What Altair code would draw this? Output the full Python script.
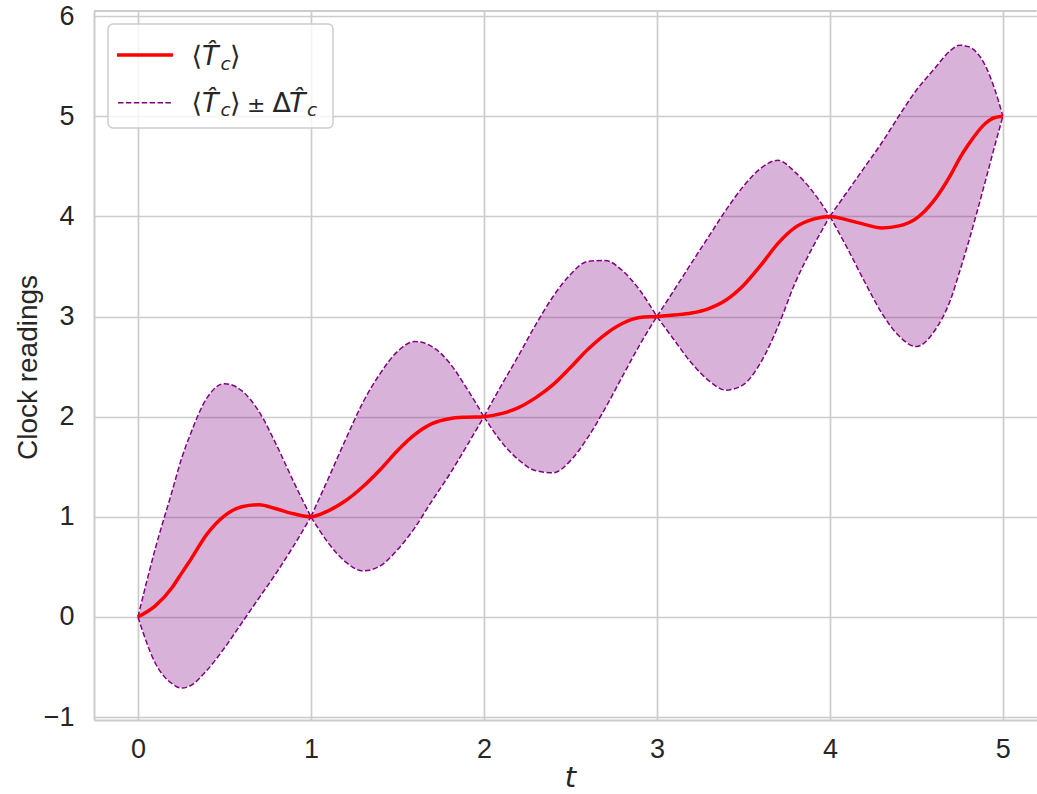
import altair as alt
import pandas as pd

# ---- data ----
t_vals = [0.0, 0.1, 0.2, 0.25, 0.3, 0.4, 0.5, 0.6, 0.7, 0.8, 0.9,
          1.0, 1.1, 1.2, 1.3, 1.4, 1.5, 1.6, 1.7, 1.8, 1.9,
          2.0, 2.1, 2.2, 2.3, 2.4, 2.5, 2.6, 2.7, 2.8, 2.9,
          3.0, 3.1, 3.2, 3.3, 3.4, 3.5, 3.6, 3.7, 3.8, 3.9,
          4.0, 4.1, 4.2, 4.3, 4.4, 4.5, 4.6, 4.7, 4.75, 4.8, 4.9, 4.95,
          5.0]
mean_vals = [0.00, 0.11, 0.30, 0.43, 0.56, 0.83, 1.01, 1.10, 1.12, 1.08, 1.03,
             1.00, 1.06, 1.16, 1.30, 1.47, 1.66, 1.82, 1.93, 1.98, 1.995,
             2.00, 2.03, 2.09, 2.19, 2.32, 2.49, 2.67, 2.82, 2.93, 2.99,
             3.00, 3.015, 3.035, 3.08, 3.165, 3.31, 3.51, 3.73, 3.89, 3.97,
             4.00, 3.965, 3.92, 3.885, 3.905, 3.98, 4.155, 4.42, 4.58, 4.715, 4.93, 4.985,
             5.00]
delta_vals = [0.00, 0.57, 0.97, 1.14, 1.25, 1.36, 1.32, 1.16, 0.93, 0.64, 0.32,
              0.00, 0.32, 0.61, 0.84, 0.96, 0.99, 0.93, 0.77, 0.56, 0.29,
              0.00, 0.28, 0.52, 0.73, 0.88, 0.93, 0.88, 0.74, 0.53, 0.275,
              0.00, 0.25, 0.50, 0.72, 0.90, 0.99, 0.97, 0.83, 0.55, 0.28,
              0.00, 0.28, 0.57, 0.85, 1.10, 1.28, 1.31, 1.24, 1.13, 0.98, 0.57, 0.30,
              0.00]

x_ticks = [0, 1, 2, 3, 4, 5]
y_ticks = [-1, 0, 1, 2, 3, 4, 5, 6]

# ---- tables built from the arrays ----
rows = []
for k in range(5):
    for t, m, d in zip(t_vals, mean_vals, delta_vals):
        if k - 1e-9 <= t <= k + 1 + 1e-9:
            rows.append({"t": t, "seg": k, "upper": m + d, "lower": m - d})
band = pd.DataFrame(rows)
mean_df = pd.DataFrame({"t": t_vals, "mean": mean_vals})

W, H = 942.6, 709
TXT = "#262626"
GRID = "#cccccc"

xs = alt.Scale(domain=[-0.254, 5.195], nice=False, zero=False)
ys = alt.Scale(domain=[-1.029, 6.051], nice=False, zero=False)

x_axis = alt.Axis(values=x_ticks, format="d", title="t",
                  titleFont="DejaVu Sans", titleFontStyle="italic", titleFontWeight="normal",
                  titleFontSize=29, titleColor=TXT, titleX=476, titleY=67,
                  titleAlign="center", titleBaseline="alphabetic",
                  labelFont="Liberation Sans", labelFontSize=27, labelColor=TXT,
                  labelPadding=17, ticks=False, tickSize=0, grid=True,
                  gridColor=GRID, gridWidth=1.7, domainColor=GRID, domainWidth=2,
                  labelFlush=False)
y_axis = alt.Axis(values=y_ticks, format="d", title="Clock readings",
                  titleFont="Liberation Sans", titleFontWeight="normal",
                  titleFontSize=28, titleColor=TXT, titleAngle=270,
                  titleX=-57, titleY=356, titleAlign="center", titleBaseline="alphabetic",
                  labelFont="Liberation Sans", labelFontSize=27, labelColor=TXT,
                  labelPadding=20, ticks=False, tickSize=0, grid=True,
                  gridColor=GRID, gridWidth=1.7, domainColor=GRID, domainWidth=2,
                  labelFlush=False)

X = alt.X("t:Q", scale=xs, axis=x_axis)

area = alt.Chart(band).mark_area(
    fill="purple", fillOpacity=0.3, stroke="white", strokeWidth=1, strokeOpacity=0.9,
    interpolate="monotone"
).encode(x=X, y=alt.Y("lower:Q", scale=ys, axis=y_axis), y2="upper:Q", detail="seg:N")

upper = alt.Chart(band).mark_line(
    color="purple", strokeWidth=1.5, strokeDash=[5.5, 2.4], interpolate="monotone"
).encode(x=X, y=alt.Y("upper:Q", scale=ys, axis=y_axis), detail="seg:N")

lower = alt.Chart(band).mark_line(
    color="purple", strokeWidth=1.5, strokeDash=[5.5, 2.4], interpolate="monotone"
).encode(x=X, y=alt.Y("lower:Q", scale=ys, axis=y_axis), detail="seg:N")

mean_line = alt.Chart(mean_df).mark_line(
    color="red", strokeWidth=3.5, interpolate="monotone"
).encode(x=X, y=alt.Y("mean:Q", scale=ys, axis=y_axis))

dummy = pd.DataFrame({"a": [1]})

top_border = alt.Chart(dummy).mark_rule(color=GRID, strokeWidth=2).encode(
    x=alt.value(0), x2=alt.value(W), y=alt.value(0))

leg_box = alt.Chart(dummy).mark_rect(
    fill="white", fillOpacity=0.8, stroke=GRID, strokeWidth=1.5, cornerRadius=5
).encode(x=alt.value(14), x2=alt.value(239), y=alt.value(13), y2=alt.value(117))

leg_red = alt.Chart(dummy).mark_rule(color="red", strokeWidth=3.5).encode(
    x=alt.value(23), x2=alt.value(79), y=alt.value(44))
leg_dash = alt.Chart(dummy).mark_rule(color="purple", strokeWidth=1.5, strokeDash=[5.5, 2.4]).encode(
    x=alt.value(24), x2=alt.value(78), y=alt.value(91.7))


def txt(s, x, y, size, italic=False):
    return alt.Chart(dummy).mark_text(
        text=s, font="DejaVu Sans", fontSize=size,
        fontStyle="italic" if italic else "normal",
        align="left", baseline="alphabetic", color=TXT
    ).encode(x=alt.value(x), y=alt.value(y))


BIG, SUB, PM = 27, 18.5, 22
b1, b2 = 54, 100.8
legend_text = [
    txt("\u27e8", 97.6, b1, BIG), txt("T\u0302", 108, b1, BIG, italic=True),
    txt("c", 126.5, b1 + 5, SUB, italic=True), txt("\u27e9", 136, b1, BIG),
    txt("\u27e8", 97.6, b2, BIG), txt("T\u0302", 108, b2, BIG, italic=True),
    txt("c", 126.5, b2 + 4.5, SUB, italic=True), txt("\u27e9", 136, b2, BIG),
    txt("\u00b1", 153, b2, PM), txt("\u0394", 178.5, b2, BIG),
    txt("T\u0302", 195, b2, BIG, italic=True), txt("c", 213, b2 + 4.5, SUB, italic=True),
]

chart = alt.layer(
    area, upper, lower, mean_line, top_border, leg_box, leg_red, leg_dash, *legend_text
).properties(
    width=W, height=H,
    autosize=alt.AutoSizeParams(type="none"),
    padding={"left": 94, "top": 11, "right": 0, "bottom": 74},
    background="white",
).configure_view(stroke=None)

chart.save("out.html", embed_options={"renderer": "svg", "actions": False})
